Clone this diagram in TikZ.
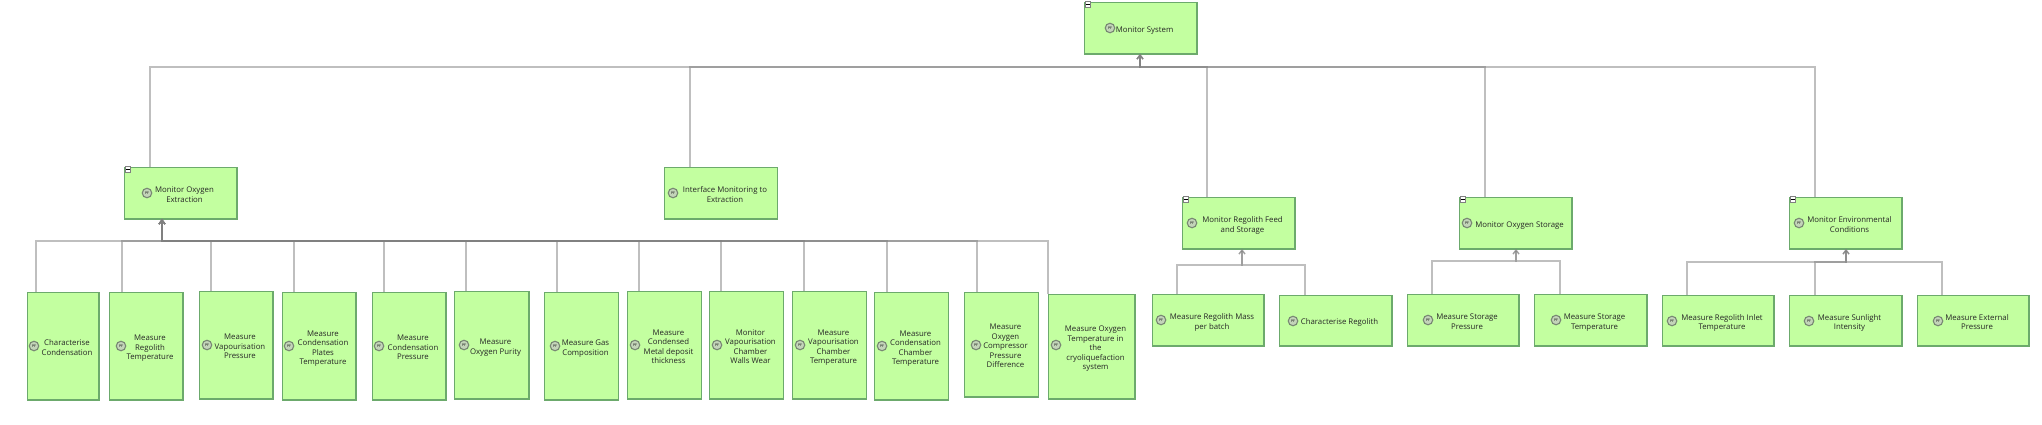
\documentclass[tikz,border=0pt]{standalone}
\usepackage{fontspec}
\setmainfont{Open Sans}
\usetikzlibrary{arrows.meta}
\newcommand{\lbl}[1]{\hspace*{8pt}\raisebox{-2.5pt}[\height][\depth]{\begin{tabular}{@{}c@{}}#1\end{tabular}}}
\begin{document}
\begin{tikzpicture}[
        x=1pt, y=-1pt,
        task/.style={draw=boxedge, fill=boxfill, line width=1pt, anchor=north west, inner sep=0pt, outer sep=0pt,
            font=\fontsize{7.8}{9.5}\selectfont, text=black!85}, % Box of one function
        wide/.style={task, minimum width=113pt, minimum height=52pt},
        tall/.style={task, minimum width=74pt, minimum height=108pt},
        pficon/.style={circle, draw=markedge, fill=markfill, line width=1.1pt, inner sep=0pt, minimum size=9.5pt,
            font=\fontsize{3.5}{4}\selectfont, text=black}, % Small mark left of the text
        minusbox/.style={draw=black!50, fill=white, line width=.4pt, anchor=north west, inner sep=0pt, minimum size=5.5pt,
            path picture={\fill[black] ([xshift=1pt,yshift=-.6pt]path picture bounding box.west) rectangle ([xshift=-1pt,yshift=.6pt]path picture bounding box.east);}},
        link/.style={draw=black!50, opacity=.5, line width=1.3pt, -{Straight Barb[length=4pt,width=6pt]}}, % Connector
        shade edge/.style={draw=boxedge, line width=1.25pt},
    ]
    \definecolor{boxfill}{RGB}{195,255,160}
    \definecolor{boxedge}{RGB}{108,170,108}
    \definecolor{markfill}{RGB}{195,212,185}
    \definecolor{markedge}{RGB}{120,135,115}
    \useasboundingbox (0,0) rectangle (2042,424);

    % Upper levels
    \node[wide] (sys) at (1084,2) {\lbl{Monitor System}};
    \node[wide] (oxy) at (124,167) {\lbl{Monitor Oxygen\\Extraction}};
    \node[wide] (iface) at (664.5,167) {\lbl{Interface Monitoring to\\Extraction}};
    \node[wide] (reg) at (1182,197) {\lbl{Monitor Regolith Feed\\and Storage}};
    \node[wide] (sto) at (1459,197) {\lbl{Monitor Oxygen Storage}};
    \node[wide] (env) at (1789,197) {\lbl{Monitor Environmental\\Conditions}};

    % Children of the oxygen extraction
    \node[tall, minimum width=72pt] (cha) at (27,292) {\lbl{Characterise\\Condensation}};
    \node[tall] (rgt) at (109,292) {\lbl{Measure\\Regolith\\Temperature}};
    \node[tall] (vpp) at (199,291) {\lbl{Measure\\Vapourisation\\Pressure}};
    \node[tall] (cpt) at (282,292) {\lbl{Measure\\Condensation\\Plates\\Temperature}};
    \node[tall] (cnp) at (372,292) {\lbl{Measure\\Condensation\\Pressure}};
    \node[tall, minimum width=75pt] (pur) at (454,291) {\lbl{Measure\\Oxygen Purity}};
    \node[tall] (gas) at (544.5,292) {\lbl{Measure Gas\\Composition}};
    \node[tall] (met) at (627.5,291) {\lbl{Measure\\Condensed\\Metal deposit\\thickness}};
    \node[tall] (wal) at (709.5,291) {\lbl{Monitor\\Vapourisation\\Chamber\\Walls Wear}};
    \node[tall] (vpt) at (792.5,291) {\lbl{Measure\\Vapourisation\\Chamber\\Temperature}};
    \node[tall] (cct) at (874.5,292) {\lbl{Measure\\Condensation\\Chamber\\Temperature}};
    \node[tall, minimum height=105pt] (cmp) at (964.5,292) {\lbl{Measure\\Oxygen\\Compressor\\Pressure\\Difference}};
    \node[tall, minimum width=87pt, minimum height=105pt] (cry) at (1048,294) {\lbl{Measure Oxygen\\Temperature in\\the\\cryoliquefaction\\system}};

    % Other children
    \node[wide, minimum width=112pt] (mas) at (1152,294) {\lbl{Measure Regolith Mass\\per batch}};
    \node[wide, minimum height=51pt] (crg) at (1279,295) {\lbl{Characterise Regolith}};
    \node[wide, minimum width=112pt] (stp) at (1407,294) {\lbl{Measure Storage\\Pressure}};
    \node[wide] (stt) at (1534,294) {\lbl{Measure Storage\\Temperature}};
    \node[wide, minimum width=112pt, minimum height=51pt] (inl) at (1662,295) {\lbl{Measure Regolith Inlet\\Temperature}};
    \node[wide, minimum height=51pt] (sun) at (1789,295) {\lbl{Measure Sunlight\\Intensity}};
    \node[wide, minimum width=112pt, minimum height=51pt] (ext) at (1917,295) {\lbl{Measure External\\Pressure}};

    % Darker right and lower edges
    \foreach \name in {sys,oxy,iface,reg,sto,env,cha,rgt,vpp,cpt,cnp,pur,gas,met,wal,vpt,cct,cmp,cry,mas,crg,stp,stt,inl,sun,ext}
        \draw[shade edge] (\name.north east) -- (\name.south east) -- (\name.south west);

    % Marks
    \foreach \name/\ix/\iy in {sys/1110/28, oxy/147/193, iface/673/193, reg/1192/223, sto/1467/223, env/1799/223,
            cha/34/346, rgt/121/346, vpp/207/345, cpt/289/346, cnp/379/346, pur/464/345, gas/555/346, met/635/345,
            wal/717/345, vpt/800/345, cct/882/346, cmp/976/345, cry/1056/345,
            mas/1161/320, crg/1293/321, stp/1428/320, stt/1556/320, inl/1672/321, sun/1809/321, ext/1938/321}
        \node[pficon] (\name mark) at (\ix,\iy) {PF};
    \foreach \name in {sys,oxy,reg,sto,env}
        \node[minusbox] (\name minus) at ([xshift=.8pt,yshift=.8pt]\name.north west) {};

    % Connectors
    \coordinate (sysbus) at (1140,67);
    \coordinate (oxybus) at (162,241);
    \coordinate (regbus) at (1242,265);
    \coordinate (stobus) at (1516,261);
    \coordinate (envbus) at (1846,262);
    \foreach \kid/\kx in {oxy/150, iface/690, reg/1207, sto/1485, env/1815}
        \draw[link] (\kx,0 |- \kid.north) |- (sysbus) -- (sysbus |- sys.south);
    \foreach \kid/\kx in {cha/36, rgt/122, vpp/211, cpt/294, cnp/384, pur/466, gas/557, met/639, wal/721, vpt/804, cct/887, cmp/977, cry/1048}
        \draw[link] (\kx,0 |- \kid.north) |- (oxybus) -- (oxybus |- oxy.south);
    \foreach \kid/\kx in {mas/1177, crg/1305}
        \draw[link] (\kx,0 |- \kid.north) |- (regbus) -- (regbus |- reg.south);
    \foreach \kid/\kx in {stp/1432, stt/1560}
        \draw[link] (\kx,0 |- \kid.north) |- (stobus) -- (stobus |- sto.south);
    \foreach \kid/\kx in {inl/1687, sun/1815, ext/1942}
        \draw[link] (\kx,0 |- \kid.north) |- (envbus) -- (envbus |- env.south);
\end{tikzpicture}
\end{document}
